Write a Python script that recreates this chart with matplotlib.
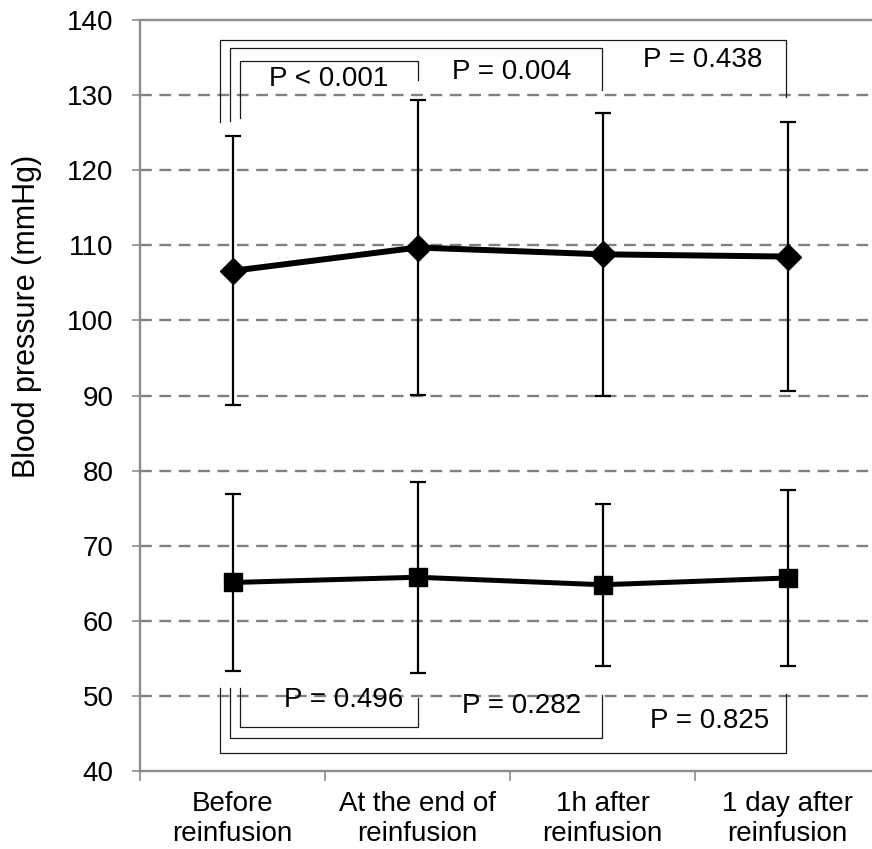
import matplotlib
matplotlib.use("Agg")
import matplotlib.pyplot as plt
import numpy as np

# values
categories = ["Before\nreinfusion", "At the end of\nreinfusion", "1h after\nreinfusion", "1 day after\nreinfusion"]
systolic_mean = [106.6, 109.7, 108.8, 108.5]
systolic_sd = [17.9, 19.6, 18.8, 17.9]
diastolic_mean = [65.1, 65.8, 64.8, 65.7]
diastolic_sd = [11.8, 12.7, 10.8, 11.7]

# comparisons against "Before reinfusion"
top_targets = [1, 2, 3]
top_p = ["P < 0.001", "P = 0.004", "P = 0.438"]
bottom_targets = [1, 2, 3]
bottom_p = ["P = 0.496", "P = 0.282", "P = 0.825"]

font = ["Liberation Sans", "DejaVu Sans"]

fig = plt.figure(figsize=(8.72, 8.49), dpi=100)
# axes reaches past the right edge of the picture, like the reference
ax = fig.add_axes([140 / 872, 1 - 771 / 849, 740 / 872, 751 / 849])

x = np.arange(len(categories))
ax.set_xlim(-0.5, 3.5)
ax.set_ylim(40, 140)

for yv in range(50, 140, 10):
    ax.axhline(yv, color="#808080", lw=1.7, ls=(0, (5, 3.2)), zorder=0)

ax.errorbar(x, systolic_mean, yerr=systolic_sd, color="black", lw=4.3, marker="D", ms=13,
            ecolor="black", elinewidth=1.6, capsize=6, capthick=1.6, zorder=3)
ax.errorbar(x, diastolic_mean, yerr=diastolic_sd, color="black", lw=3.6, marker="s", ms=13,
            ecolor="black", elinewidth=1.6, capsize=6, capthick=1.6, zorder=3)

# top brackets (inner to outer)
left_x = [0.041, -0.014, -0.068]
right_shift = [0.003, -0.003, -0.01]
top_y = [134.5, 136.3, 137.3]
top_right_end = [132.0, 130.7, 129.8]
top_left_end = [126.9, 126.6, 126.4]
top_text = [(0.52, 132.1), (1.51, 133.1), (2.54, 134.7)]
for i, t in enumerate(top_targets):
    xr = t + right_shift[i]
    ax.plot([left_x[i], left_x[i], xr, xr],
            [top_left_end[i], top_y[i], top_y[i], top_right_end[i]],
            color="#1a1a1a", lw=0.9, zorder=2)
    ax.text(top_text[i][0], top_text[i][1], top_p[i], ha="center", va="center",
            fontsize=20, family=font)

# bottom brackets (inner to outer)
bot_y = [45.9, 44.4, 42.4]
bot_right_end = [49.7, 50.1, 50.3]
bot_left_end = [51.1, 51.1, 51.1]
bot_text = [(0.6, 49.5), (1.56, 48.6), (2.58, 46.6)]
for i, t in enumerate(bottom_targets):
    xr = t + right_shift[i]
    ax.plot([left_x[i], left_x[i], xr, xr],
            [bot_left_end[i], bot_y[i], bot_y[i], bot_right_end[i]],
            color="#1a1a1a", lw=0.9, zorder=2)
    ax.text(bot_text[i][0], bot_text[i][1], bottom_p[i], ha="center", va="center",
            fontsize=20, family=font)

for side in ["left", "bottom", "top"]:
    ax.spines[side].set_color("#8c8c8c")
    ax.spines[side].set_linewidth(1.7)
ax.spines["right"].set_visible(False)

ax.set_yticks(range(40, 141, 10))
ax.set_yticklabels([str(v) for v in range(40, 141, 10)], family=font, fontsize=20)
ax.tick_params(axis="y", length=6, width=1.2, color="#8c8c8c", pad=13)

ax.set_xticks([-0.5, 0.5, 1.5, 2.5])
ax.set_xticklabels([])
ax.tick_params(axis="x", length=7, width=1.2, color="#8c8c8c")
for i, c in enumerate(categories):
    ax.text(x[i], 37.3, c, ha="center", va="top", fontsize=20, family=font,
            linespacing=1.2)

ax.set_ylabel("Blood pressure (mmHg)", fontsize=22, family=font)
ax.yaxis.set_label_coords(-0.133, 0.606)

fig.savefig("out.png", dpi=100)
